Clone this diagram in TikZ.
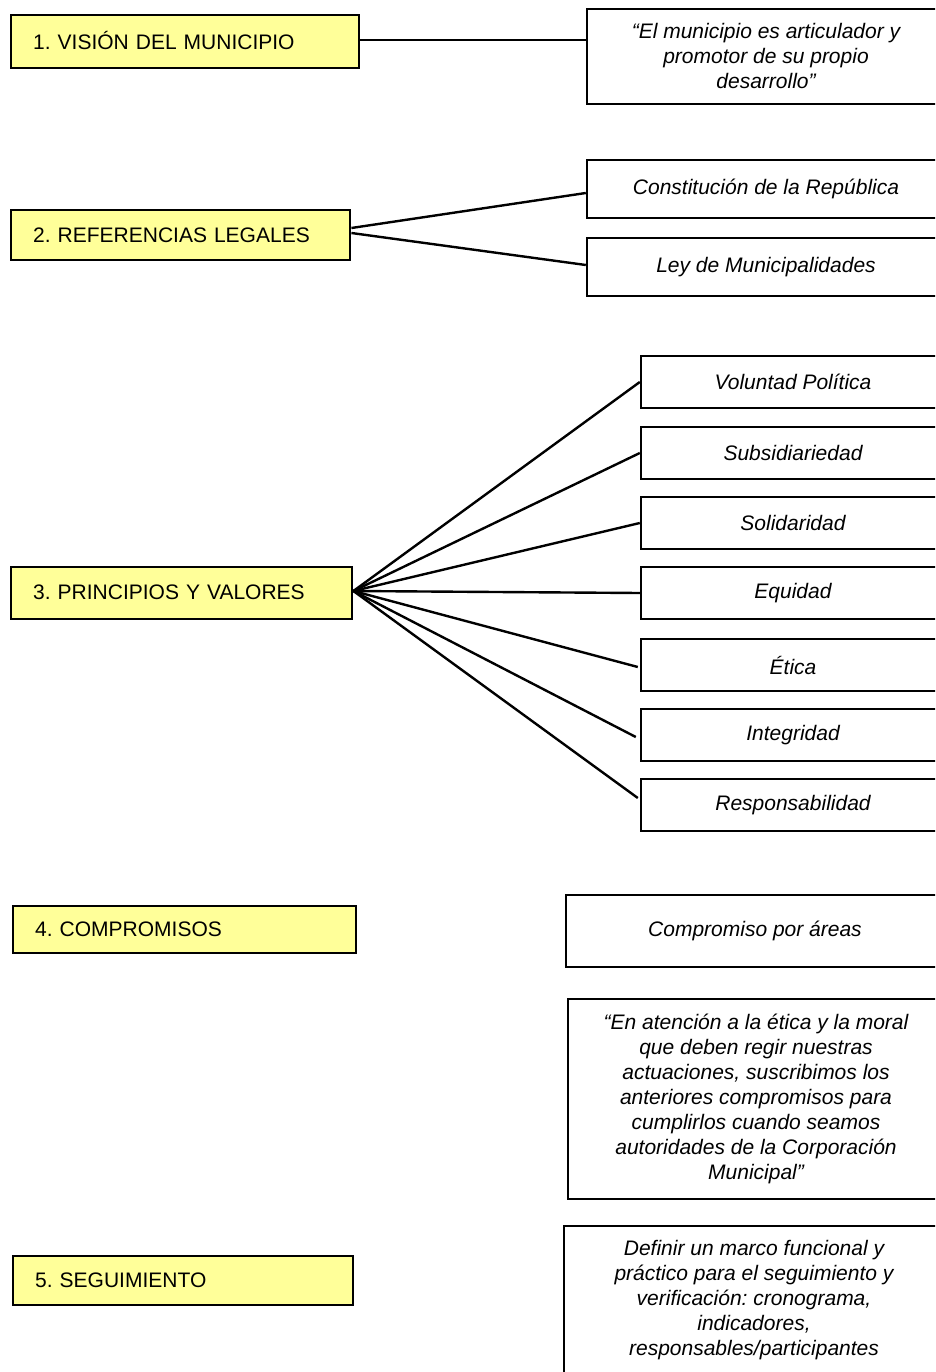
\documentclass[tikz,border=0pt]{standalone}
\usepackage{fontspec}
\setmainfont{Liberation Sans}
\definecolor{yellowfill}{HTML}{FFFF99}
\begin{document}
\frenchspacing
\begin{tikzpicture}[x=1pt,y=-1pt,
  ybox/.style={draw=black, line width=2.4pt, fill=yellowfill, anchor=west, align=left,
    inner xsep=22pt, inner ysep=0pt, font=\fontsize{21}{25}\selectfont},
  wbox/.style={draw=black, line width=2.4pt, fill=white, align=center, inner sep=0pt,
    font=\fontsize{21}{25}\selectfont\itshape},
  conn/.style={draw=black, line width=2.4pt}]
\useasboundingbox (0,0) rectangle (935,1372);
\begin{scope}
\clip (0,0) rectangle (935,1372);
% left yellow boxes
\node[ybox, minimum width=348pt, text width=304pt, minimum height=53pt] (b1) at (10,41.5) {\raisebox{3pt}{1. VISIÓN DEL MUNICIPIO}};
\node[ybox, minimum width=339pt, text width=295pt, minimum height=50pt] (b2) at (10,235) {2. REFERENCIAS LEGALES};
\node[ybox, minimum width=341pt, text width=297pt, minimum height=52pt] (b3) at (10,593) {\raisebox{2pt}{3. PRINCIPIOS Y VALORES}};
\node[ybox, minimum width=343pt, text width=299pt, minimum height=47pt] (b4) at (12,929.5) {4. COMPROMISOS};
\node[ybox, minimum width=340pt, text width=296pt, minimum height=49pt] (b5) at (12,1280.5) {\raisebox{1pt}{5. SEGUIMIENTO}};
% right boxes
\node[wbox, minimum width=358pt, minimum height=95pt] (v1) at (766,56.5) {“El municipio es articulador y\\promotor de su propio\\desarrollo”};
\node[wbox, minimum width=358pt, minimum height=58pt] (l1) at (766,189) {Constitución de la República};
\node[wbox, minimum width=358pt, minimum height=58pt] (l2) at (766,267) {Ley de Municipalidades};
\node[wbox, minimum width=304pt, minimum height=52pt] (p1) at (793,382) {Voluntad Política};
\node[wbox, minimum width=304pt, minimum height=52pt] (p2) at (793,453) {Subsidiariedad};
\node[wbox, minimum width=304pt, minimum height=52pt] (p3) at (793,523) {Solidaridad};
\node[wbox, minimum width=304pt, minimum height=52pt] (p4) at (793,593) {Equidad};
\node[wbox, minimum width=304pt, minimum height=52pt] (p5) at (793,665) {Ética};
\node[wbox, minimum width=304pt, minimum height=52pt] (p6) at (793,735) {Integridad};
\node[wbox, minimum width=304pt, minimum height=52pt] (p7) at (793,805) {Responsabilidad};
\node[wbox, minimum width=378pt, minimum height=72pt] (c1) at (755,931) {\raisebox{3pt}{Compromiso por áreas}};
\node[wbox, minimum width=376pt, minimum height=200pt] (c2) at (756,1099) {\raisebox{-2pt}{\begin{tabular}{@{}c@{}}“En atención a la ética y la moral\\que deben regir nuestras\\actuaciones, suscribimos los\\anteriores compromisos para\\cumplirlos cuando seamos\\autoridades de la Corporación\\Municipal”\end{tabular}}};
\node[wbox, minimum width=380pt, minimum height=148pt] (s1) at (754,1300) {Definir un marco funcional y\\práctico para el seguimiento y\\verificación: cronograma,\\indicadores,\\responsables/participantes};
% connectors
\draw[conn] (b1.east |- 0,40) -- (v1.west |- 0,40);
\draw[conn] ([yshift=7pt]b2.east) -- ([yshift=-4pt]l1.west);
\draw[conn] ([yshift=2pt]b2.east) -- ([yshift=2pt]l2.west);
\coordinate (hub) at ([yshift=2pt]b3.east);
\draw[conn] (hub) -- (p1.west);
\draw[conn] (hub) -- (p2.west);
\draw[conn] (hub) -- (p3.west);
\draw[conn] (hub) -- (p4.west);
\draw[conn] (hub) -- ([xshift=-2pt,yshift=-2pt]p5.west);
\draw[conn] (hub) -- ([xshift=-4pt,yshift=-2pt]p6.west);
\draw[conn] (hub) -- ([xshift=-2pt,yshift=7pt]p7.west);
\end{scope}
\end{tikzpicture}
\end{document}
